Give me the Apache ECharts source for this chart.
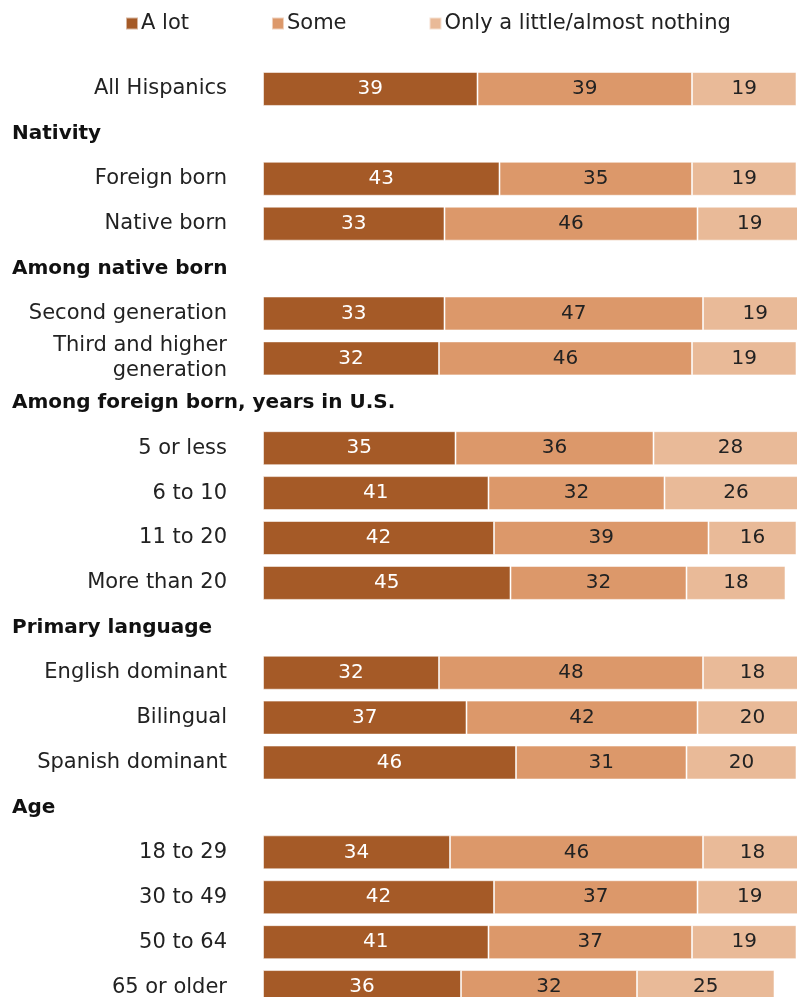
<!DOCTYPE html>
<html>
<head>
<meta charset="utf-8">
<style>
  html, body { margin: 0; padding: 0; background: #fff; }
  #chart { width: 797px; height: 997px; }
</style>
<script src="https://cdn.jsdelivr.net/npm/echarts@6/dist/echarts.min.js"></script>
</head>
<body>
<div id="chart"></div>
<script>
// Rows from top to bottom; section headings carry no values.
const categories = [
  'All Hispanics',
  'Nativity',
  'Foreign born',
  'Native born',
  'Among native born',
  'Second generation',
  'Third and higher\ngeneration',
  'Among foreign born, years in U.S.',
  '5 or less',
  '6 to 10',
  '11 to 20',
  'More than 20',
  'Primary language',
  'English dominant',
  'Bilingual',
  'Spanish dominant',
  'Age',
  '18 to 29',
  '30 to 49',
  '50 to 64',
  '65 or older'
];
const headings = ['Nativity', 'Among native born', 'Among foreign born, years in U.S.', 'Primary language', 'Age'];

const aLot   = [39, null, 43, 33, null, 33, 32, null, 35, 41, 42, 45, null, 32, 37, 46, null, 34, 42, 41, 36];
const some   = [39, null, 35, 46, null, 47, 46, null, 36, 32, 39, 32, null, 48, 42, 31, null, 46, 37, 37, 32];
const little = [19, null, 19, 19, null, 19, 19, null, 28, 26, 16, 18, null, 18, 20, 20, null, 18, 19, 19, 25];

const seriesNames = ['A lot', 'Some', 'Only a little/almost nothing'];
const colors = ['#a55a27', '#dc986a', '#e9ba98'];
const labelColors = ['#ffffff', '#222222', '#222222'];
const FONT = 'DejaVu Sans';

const chart = echarts.init(document.getElementById('chart'), null, { renderer: 'canvas' });

function makeSeries(name, data, i) {
  return {
    name: name,
    type: 'bar',
    stack: 'total',
    data: data,
    barWidth: 34,
    itemStyle: { color: colors[i], borderColor: 'rgba(255,255,255,0.55)', borderWidth: 1 },
    label: {
      show: true,
      position: 'inside',
      color: labelColors[i],
      fontFamily: FONT,
      fontSize: 20,
      padding: [4, 0, 0, 0],
      formatter: p => (p.value == null ? '' : p.value)
    },
    emphasis: { disabled: true }
  };
}

chart.setOption({
  animation: false,
  legend: {
    data: seriesNames,
    left: 120,
    top: 8,
    icon: 'rect',
    itemWidth: 12,
    itemHeight: 12,
    itemGap: 82,
    textStyle: { fontFamily: FONT, fontSize: 21, color: '#222', padding: [0, 0, 0, -2] }
  },
  // The plot runs past the right and bottom edges of the canvas, so the
  // longest bars and the last row are cut off by the frame.
  grid: {
    left: 263, width: 550, top: 66.5, height: 943,
    containLabel: false,
    outerBoundsMode: 'none'
  },
  xAxis: {
    type: 'value',
    min: 0,
    max: 100,
    show: false
  },
  yAxis: [
    {
      type: 'category',
      data: categories,
      inverse: true,
      axisLine: { show: false },
      axisTick: { show: false },
      axisLabel: {
        margin: 36,
        align: 'right',
        fontFamily: FONT,
        fontSize: 21,
        color: '#222',
        lineHeight: 25,
        padding: [4, 0, 0, 0],
        formatter: v => (headings.includes(v) ? '' : v)
      }
    },
    {
      type: 'category',
      data: categories,
      inverse: true,
      position: 'left',
      axisLine: { show: false },
      axisTick: { show: false },
      axisLabel: {
        margin: 251,
        align: 'left',
        fontFamily: FONT,
        fontSize: 20,
        fontWeight: 'bold',
        color: '#111',
        padding: [2, 0, 0, 0],
        formatter: v => (headings.includes(v) ? v : '')
      }
    }
  ],
  series: [
    makeSeries(seriesNames[0], aLot, 0),
    makeSeries(seriesNames[1], some, 1),
    makeSeries(seriesNames[2], little, 2)
  ]
});
</script>
</body>
</html>
